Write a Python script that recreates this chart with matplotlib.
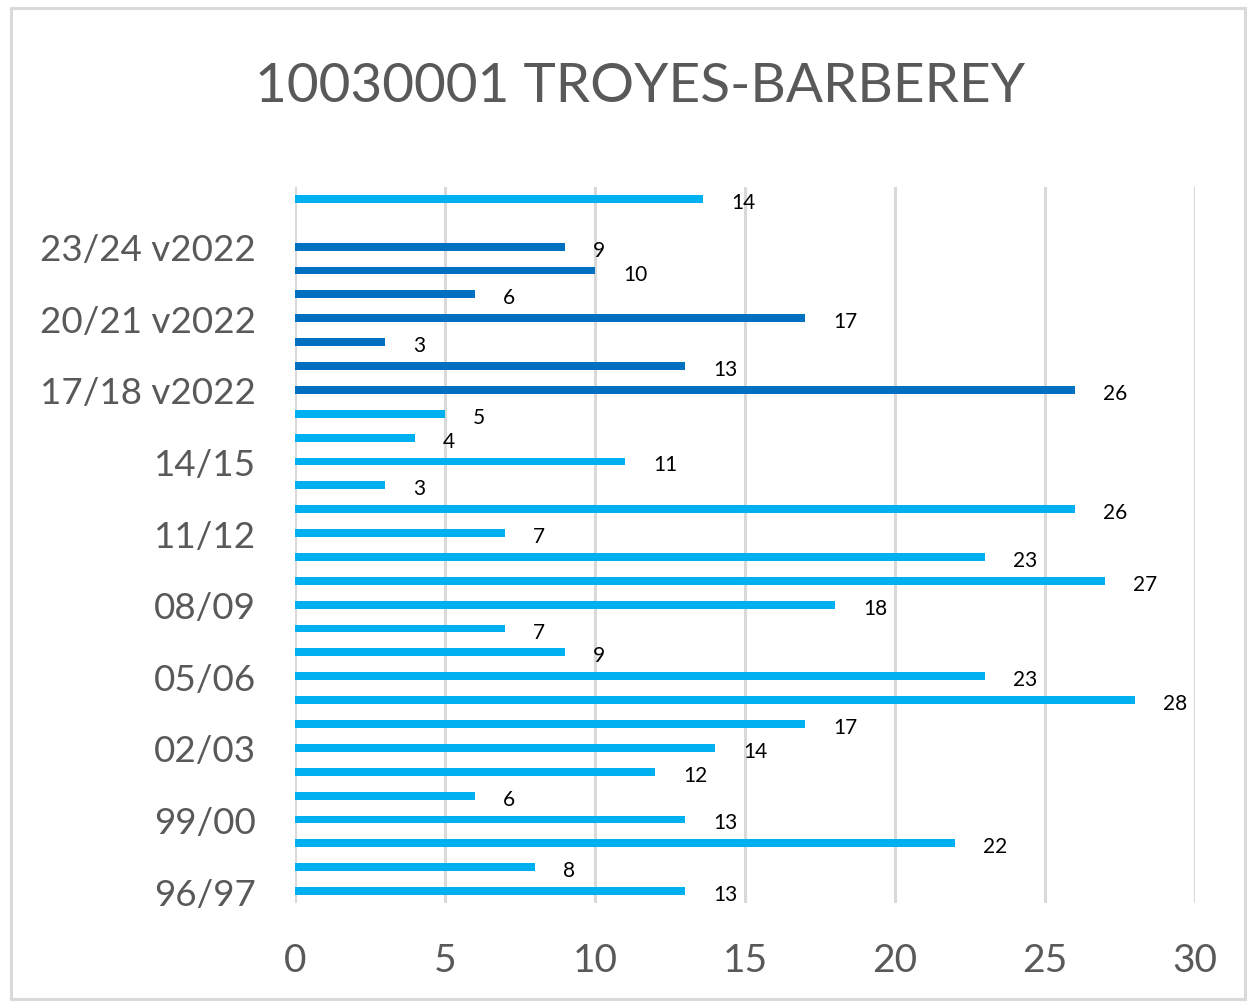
import matplotlib
matplotlib.use("Agg")
import matplotlib.pyplot as plt
from matplotlib.patches import Rectangle
import numpy as np

plt.rcParams['font.family'] = ['Lato', 'DejaVu Sans']

categories = ["96/97", "97/98", "98/99", "99/00", "00/01", "01/02", "02/03", "03/04",
              "04/05", "05/06", "06/07", "07/08", "08/09", "09/10", "10/11", "11/12",
              "12/13", "13/14", "14/15", "15/16", "16/17",
              "17/18 v2022", "18/19 v2022", "19/20 v2022", "20/21 v2022", "21/22 v2022",
              "22/23 v2022", "23/24 v2022", "", "Moyenne"]
values = [13, 8, 22, 13, 6, 12, 14, 17, 28, 23, 9, 7, 18, 27, 23, 7, 26, 3, 11, 4, 5,
          26, 13, 3, 17, 6, 10, 9, np.nan, 13.6]
series_type = ["old"] * 21 + ["v2022"] * 7 + ["gap", "mean"]
color_map = {"old": "#00B0F0", "v2022": "#0070C0", "gap": "#00B0F0", "mean": "#00B0F0"}
xticks = [0, 5, 10, 15, 20, 25, 30]

W, H = 1247, 1003
fig = plt.figure(figsize=(W / 100, H / 100), dpi=100)
ax = fig.add_axes([295 / W, 1 - 904 / H, 900 / W, 716 / H])

# border
fig.patches.append(Rectangle((11 / W, 1 - 1000 / H), 1234 / W, 991 / H, transform=fig.transFigure,
                             fill=False, edgecolor="#D9D9D9", linewidth=2.2))

y = np.arange(len(categories))
colors = [color_map[t] for t in series_type]
bars = ax.barh(y, values, height=0.33, color=colors, zorder=3)

for yi, v in zip(y, values):
    if np.isnan(v):
        continue
    ax.annotate(f"{v:.0f}", xy=(v, yi), xytext=(28, -3), textcoords="offset pixels",
                ha="left", va="center", fontsize=15, color="#000000")

ax.set_xlim(0, 30)
ax.set_ylim(-0.5, len(categories) - 0.5)
ax.set_xticks(xticks)
ax.set_xticklabels([str(t) for t in xticks])
show = list(range(0, 28, 3))
ax.set_yticks(show)
ax.set_yticklabels([categories[i] for i in show])
ax.tick_params(axis="both", length=0, labelsize=28, labelcolor="#595959")
ax.tick_params(axis="y", pad=28, labelsize=26.5)
ax.tick_params(axis="x", pad=28)
ax.grid(axis="x", color="#D9D9D9", linewidth=2.2, zorder=0)
for s in ax.spines.values():
    s.set_visible(False)

fig.text(640 / W, 1 - 86 / H, "10030001 TROYES-BARBEREY", ha="center", va="center",
         fontsize=39.5, color="#595959")

fig.savefig("out.png", dpi=100)
